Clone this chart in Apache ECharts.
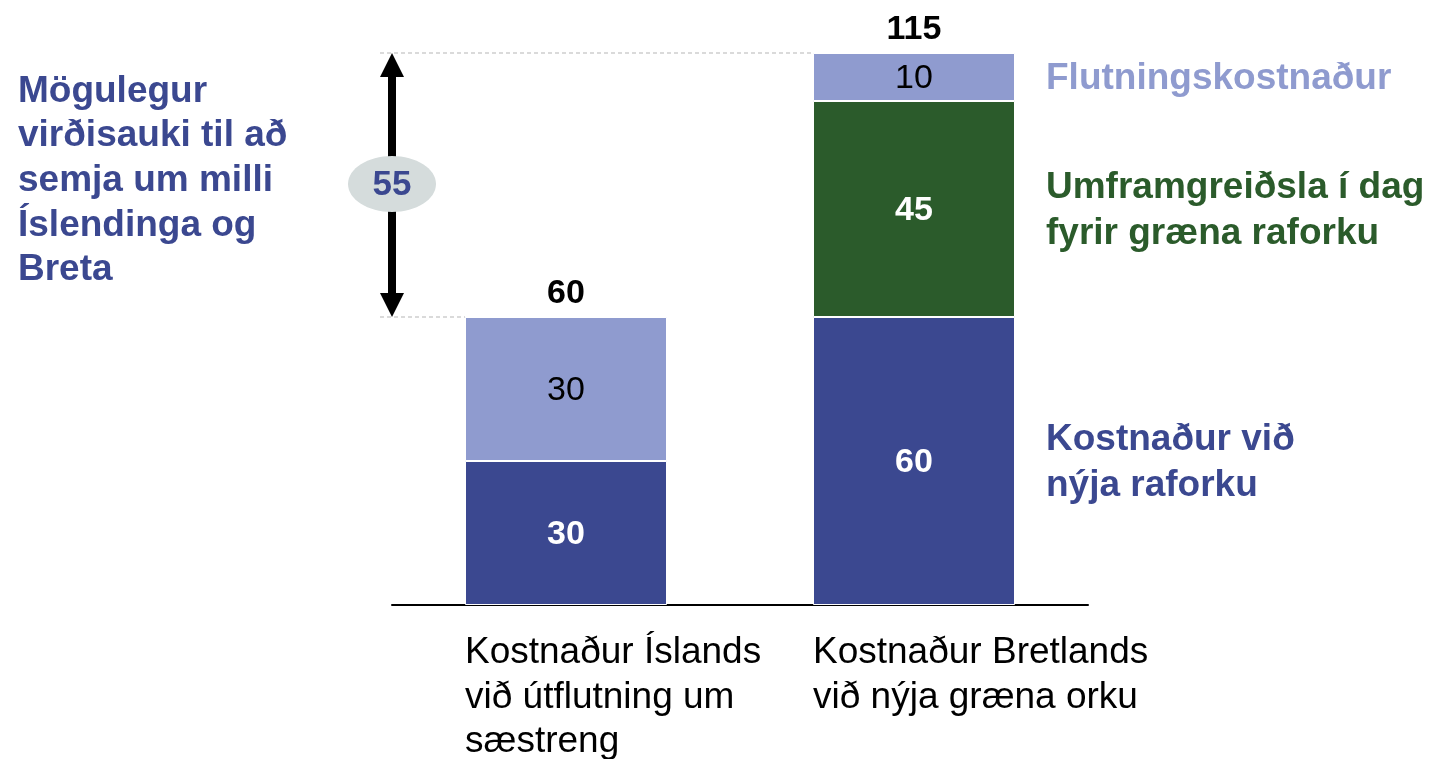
<!DOCTYPE html>
<html>
<head>
<meta charset="utf-8">
<script src="https://cdn.jsdelivr.net/npm/echarts@6/dist/echarts.min.js"></script>
<style>
  html, body { margin: 0; padding: 0; background: #fff; }
  #chart { width: 1436px; height: 759px; }
</style>
</head>
<body>
<div id="chart"></div>
<script>
// flokkar (súlur)
const categories = [
  'Kostnaður Íslands\nvið útflutning um\nsæstreng',
  'Kostnaður Bretlands\nvið nýja græna orku'
];
// gildi hvers hluta
const newPower = [30, 60];      // Kostnaður við nýja raforku
const greenPremium = [null, 45]; // Umframgreiðsla í dag
const transport = [30, 10];     // Flutningskostnaður
const totals = [60, 115];
const seriesNames = [
  'Kostnaður við\nnýja raforku',
  'Umframgreiðsla í dag\nfyrir græna raforku',
  'Flutningskostnaður'
];
const sideNote = 'Mögulegur\nvirðisauki til að\nsemja um milli\nÍslendinga og\nBreta';

const DARK = '#3B4890';
const LIGHT = '#8F9BCF';
const GREEN = '#2B5B2B';
const FONT = '"Liberation Sans", Arial, sans-serif';
const BAR_W = 202;

const chart = echarts.init(document.getElementById('chart'));

const whiteLabel = {
  show: true, position: 'inside', color: '#fff',
  fontWeight: 'bold', fontSize: 34, fontFamily: FONT, offset: [0, 2]
};

chart.setOption({
  animation: false,
  grid: { left: 392, right: 348, top: 29, bottom: 154 },
  xAxis: {
    type: 'category',
    data: categories,
    axisLine: { lineStyle: { color: '#000', width: 2 } },
    axisTick: { show: false },
    axisLabel: { show: false }
  },
  yAxis: { type: 'value', min: 0, max: 120, show: false },
  series: [
    {
      name: seriesNames[0], type: 'bar', stack: 'total', barWidth: BAR_W,
      data: newPower,
      itemStyle: { color: DARK, borderColor: '#fff', borderWidth: 1 },
      label: whiteLabel
    },
    {
      name: seriesNames[1], type: 'bar', stack: 'total', barWidth: BAR_W,
      data: greenPremium,
      itemStyle: { color: GREEN, borderColor: '#fff', borderWidth: 1 },
      label: whiteLabel
    },
    {
      name: seriesNames[2], type: 'bar', stack: 'total', barWidth: BAR_W,
      data: transport,
      itemStyle: { color: LIGHT, borderColor: '#fff', borderWidth: 1 },
      label: {
        show: true, position: 'inside', color: '#000',
        fontSize: 34, fontFamily: FONT, offset: [0, 2]
      }
    },
    {
      // heildartölur ofan á súlum
      type: 'bar', stack: 'total', barWidth: BAR_W,
      data: totals.map(() => 0),
      itemStyle: { color: 'transparent' },
      label: {
        show: true, position: 'top', distance: 6,
        color: '#000', fontWeight: 'bold', fontSize: 34, fontFamily: FONT,
        formatter: p => totals[p.dataIndex]
      }
    }
  ]
});

function px(cat, val) {
  return chart.convertToPixel({ gridIndex: 0 }, [cat, val]);
}

const graphics = [];
const axisLeft = 392;
const axisY = px(0, 0)[1];
const topHi = px(1, totals[1]);
const topLo = px(0, totals[0]);

// punktalínur
graphics.push({
  type: 'line', shape: { x1: 380, y1: topHi[1], x2: topHi[0] - BAR_W / 2, y2: topHi[1] },
  style: { stroke: '#B5B5B5', lineWidth: 1, lineDash: [4, 3] }
});
graphics.push({
  type: 'line', shape: { x1: 380, y1: topLo[1], x2: topLo[0] - BAR_W / 2, y2: topLo[1] },
  style: { stroke: '#B5B5B5', lineWidth: 1, lineDash: [4, 3] }
});

// tvíátta ör
graphics.push({
  type: 'line', shape: { x1: axisLeft, y1: topHi[1] + 20, x2: axisLeft, y2: topLo[1] - 20 },
  style: { stroke: '#000', lineWidth: 8 }
});
graphics.push({
  type: 'polygon',
  shape: { points: [[axisLeft, topHi[1]], [axisLeft - 12, topHi[1] + 24], [axisLeft + 12, topHi[1] + 24]] },
  style: { fill: '#000' }
});
graphics.push({
  type: 'polygon',
  shape: { points: [[axisLeft, topLo[1]], [axisLeft - 12, topLo[1] - 24], [axisLeft + 12, topLo[1] - 24]] },
  style: { fill: '#000' }
});
const midY = (topHi[1] + topLo[1]) / 2;
graphics.push({
  type: 'ellipse', shape: { cx: axisLeft, cy: midY - 1, rx: 44, ry: 28 },
  style: { fill: '#D5DCDC' }
});
graphics.push({
  type: 'text', x: axisLeft, y: midY,
  style: {
    text: String(totals[1] - totals[0]), fill: DARK, font: 'bold 35px ' + FONT,
    align: 'center', verticalAlign: 'middle'
  }
});

// vinstri texti
graphics.push({
  type: 'text', x: 18, y: 69,
  style: {
    text: sideNote, fill: DARK, font: 'bold 37px ' + FONT,
    lineHeight: 44.7, align: 'left', verticalAlign: 'top'
  }
});

// heiti flokka undir ás
categories.forEach((c, i) => {
  const p = px(i, 0);
  graphics.push({
    type: 'text', x: p[0] - BAR_W / 2, y: axisY + 26,
    style: {
      text: c, fill: '#000', font: '37px ' + FONT,
      lineHeight: 44.5, align: 'left', verticalAlign: 'top'
    }
  });
});

// merkingar hægra megin við seinni súlu
const segs = [newPower, greenPremium, transport];
const colors = [DARK, GREEN, LIGHT];
let cum = 0;
segs.forEach((s, k) => {
  const v = s[1];
  const mid = px(1, cum + v / 2);
  cum += v;
  graphics.push({
    type: 'text', x: mid[0] + BAR_W / 2 + 31, y: mid[1] + 2,
    style: {
      text: seriesNames[k], fill: colors[k], font: 'bold 37px ' + FONT,
      lineHeight: 46, align: 'left', verticalAlign: 'middle'
    }
  });
});

chart.setOption({ graphic: graphics });
</script>
</body>
</html>
